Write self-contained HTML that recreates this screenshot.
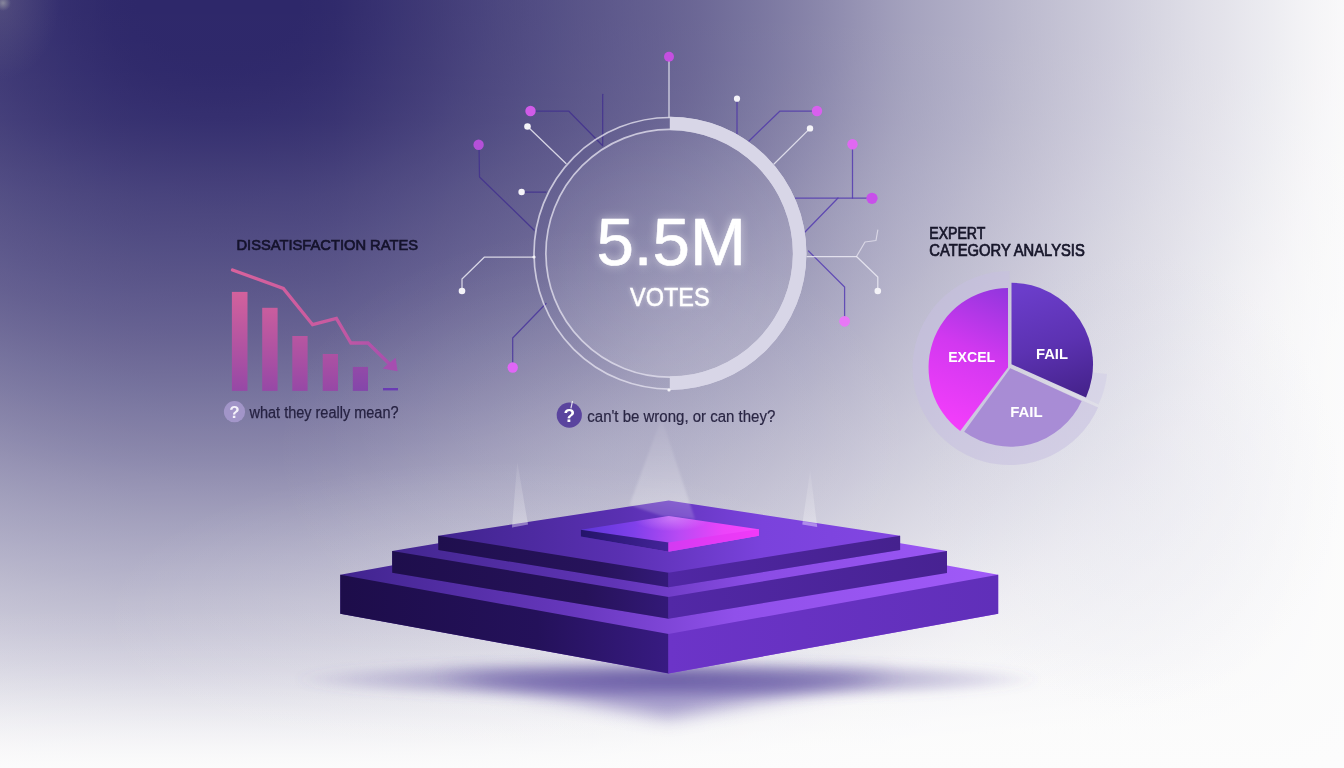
<!DOCTYPE html>
<html lang="en">
<head>
<meta charset="utf-8">
<title>5.5M Votes</title>
<style>
html,body{margin:0;padding:0;background:#fafafa;}
body{width:1344px;height:768px;overflow:hidden;position:relative;}
#stage{position:absolute;left:0;top:0;width:1344px;height:768px;overflow:hidden;background:radial-gradient(circle 8px at 3px 3px, rgba(150,150,165,0.8), rgba(150,150,165,0.35) 55%, rgba(150,150,165,0) 100%), radial-gradient(ellipse 60px 80px at 0px 0px, rgba(112,106,140,0.38), rgba(112,106,140,0) 100%), radial-gradient(ellipse 330px 230px at 600px 455px, rgba(252,252,252,0.10), rgba(252,252,252,0.06) 45%, rgba(252,252,252,0) 100%), radial-gradient(ellipse 400px 160px at 500px 620px, rgba(252,252,252,0.18), rgba(252,252,252,0.11) 50%, rgba(252,252,252,0) 100%), radial-gradient(ellipse 210px 230px at 1130px 480px, rgba(200,200,222,0.17), rgba(200,200,222,0.10) 50%, rgba(200,200,222,0) 100%), linear-gradient(to bottom, rgba(252,252,252,0) 0px, rgba(252,252,252,0.000) 592px, rgba(252,252,252,0.002) 608px, rgba(252,252,252,0.014) 624px, rgba(252,252,252,0.036) 640px, rgba(252,252,252,0.065) 656px, rgba(252,252,252,0.100) 672px, rgba(252,252,252,0.158) 688px, rgba(252,252,252,0.249) 704px, rgba(252,252,252,0.360) 720px, rgba(252,252,252,0.512) 736px, rgba(252,252,252,0.706) 752px, rgba(252,252,252,0.900) 768px), radial-gradient(ellipse 1200px 902.3px at 220px 0px, rgba(46,40,106,0.50) 0.00%, rgba(46,40,106,0.50) 1.67%, rgba(46,40,106,0.50) 3.33%, rgba(46,40,106,0.50) 5.00%, rgba(46,40,106,0.50) 6.67%, rgba(47,41,107,0.50) 8.33%, rgba(49,43,108,0.50) 10.00%, rgba(52,46,110,0.50) 11.67%, rgba(55,49,113,0.50) 13.33%, rgba(58,53,115,0.50) 15.00%, rgba(62,56,117,0.50) 16.67%, rgba(65,60,119,0.50) 18.33%, rgba(69,63,122,0.50) 20.00%, rgba(72,67,125,0.50) 21.67%, rgba(76,71,127,0.50) 23.33%, rgba(79,74,129,0.50) 25.00%, rgba(82,77,132,0.50) 26.67%, rgba(85,81,134,0.50) 28.33%, rgba(89,84,136,0.50) 30.00%, rgba(92,87,138,0.50) 31.67%, rgba(95,90,141,0.50) 33.33%, rgba(98,93,143,0.50) 35.00%, rgba(101,96,145,0.50) 36.67%, rgba(105,100,147,0.50) 38.33%, rgba(109,104,150,0.50) 40.00%, rgba(113,109,153,0.50) 41.67%, rgba(117,114,157,0.50) 43.33%, rgba(122,119,160,0.50) 45.00%, rgba(127,124,164,0.50) 46.67%, rgba(133,129,167,0.50) 48.33%, rgba(138,135,171,0.50) 50.00%, rgba(144,141,176,0.50) 51.67%, rgba(151,148,180,0.50) 53.33%, rgba(157,154,185,0.50) 55.00%, rgba(162,160,188,0.50) 56.67%, rgba(167,165,192,0.50) 58.33%, rgba(171,169,195,0.50) 60.00%, rgba(175,173,198,0.50) 61.67%, rgba(179,177,201,0.50) 63.33%, rgba(183,181,203,0.50) 65.00%, rgba(188,186,206,0.50) 66.67%, rgba(192,190,209,0.50) 68.33%, rgba(196,194,212,0.50) 70.00%, rgba(200,198,215,0.50) 71.67%, rgba(204,202,218,0.50) 73.33%, rgba(208,206,221,0.50) 75.00%, rgba(212,211,224,0.50) 76.67%, rgba(216,215,226,0.50) 78.33%, rgba(220,219,229,0.50) 80.00%, rgba(224,223,232,0.50) 81.67%, rgba(227,226,234,0.50) 83.33%, rgba(231,230,237,0.50) 85.00%, rgba(234,234,240,0.50) 86.67%, rgba(238,238,242,0.50) 88.33%, rgba(242,242,245,0.50) 90.00%, rgba(246,245,247,0.50) 91.67%, rgba(249,248,250,0.50) 93.33%, rgba(250,250,250,0.50) 95.00%, rgba(251,251,251,0.50) 96.67%, rgba(251,251,252,0.50) 98.33%, rgba(252,252,252,0.50) 100.00%), linear-gradient(to bottom, rgba(252,252,252,0.000) 0px, rgba(252,252,252,0.004) 24px, rgba(252,252,252,0.008) 48px, rgba(252,252,252,0.012) 72px, rgba(252,252,252,0.019) 96px, rgba(252,252,252,0.033) 120px, rgba(252,252,252,0.059) 144px, rgba(252,252,252,0.091) 168px, rgba(252,252,252,0.120) 192px, rgba(252,252,252,0.145) 216px, rgba(252,252,252,0.169) 240px, rgba(252,252,252,0.193) 264px, rgba(252,252,252,0.220) 288px, rgba(252,252,252,0.250) 312px, rgba(252,252,252,0.283) 336px, rgba(252,252,252,0.316) 360px, rgba(252,252,252,0.350) 384px, rgba(252,252,252,0.383) 408px, rgba(252,252,252,0.415) 432px, rgba(252,252,252,0.449) 456px, rgba(252,252,252,0.485) 480px, rgba(252,252,252,0.526) 504px, rgba(252,252,252,0.570) 528px, rgba(252,252,252,0.616) 552px, rgba(252,252,252,0.660) 576px, rgba(252,252,252,0.701) 600px, rgba(252,252,252,0.740) 624px, rgba(252,252,252,0.781) 648px, rgba(252,252,252,0.825) 672px, rgba(252,252,252,0.878) 696px, rgba(252,252,252,0.930) 720px, rgba(252,252,252,0.970) 744px, rgba(252,252,252,0.995) 768px), linear-gradient(to right, rgba(252,252,252,0.060) 0px, rgba(252,252,252,0.044) 24px, rgba(252,252,252,0.030) 48px, rgba(252,252,252,0.018) 72px, rgba(252,252,252,0.010) 96px, rgba(252,252,252,0.004) 120px, rgba(252,252,252,0.000) 144px, rgba(252,252,252,0.000) 168px, rgba(252,252,252,0.000) 192px, rgba(252,252,252,0.000) 216px, rgba(252,252,252,0.000) 240px, rgba(252,252,252,0.000) 264px, rgba(252,252,252,0.000) 288px, rgba(252,252,252,0.002) 312px, rgba(252,252,252,0.013) 336px, rgba(252,252,252,0.032) 360px, rgba(252,252,252,0.052) 384px, rgba(252,252,252,0.071) 408px, rgba(252,252,252,0.091) 432px, rgba(252,252,252,0.112) 456px, rgba(252,252,252,0.133) 480px, rgba(252,252,252,0.153) 504px, rgba(252,252,252,0.172) 528px, rgba(252,252,252,0.190) 552px, rgba(252,252,252,0.207) 576px, rgba(252,252,252,0.225) 600px, rgba(252,252,252,0.242) 624px, rgba(252,252,252,0.258) 648px, rgba(252,252,252,0.277) 672px, rgba(252,252,252,0.299) 696px, rgba(252,252,252,0.324) 720px, rgba(252,252,252,0.351) 744px, rgba(252,252,252,0.380) 768px, rgba(252,252,252,0.410) 792px, rgba(252,252,252,0.442) 816px, rgba(252,252,252,0.478) 840px, rgba(252,252,252,0.515) 864px, rgba(252,252,252,0.550) 888px, rgba(252,252,252,0.579) 912px, rgba(252,252,252,0.605) 936px, rgba(252,252,252,0.629) 960px, rgba(252,252,252,0.652) 984px, rgba(252,252,252,0.675) 1008px, rgba(252,252,252,0.699) 1032px, rgba(252,252,252,0.722) 1056px, rgba(252,252,252,0.745) 1080px, rgba(252,252,252,0.769) 1104px, rgba(252,252,252,0.793) 1128px, rgba(252,252,252,0.817) 1152px, rgba(252,252,252,0.840) 1176px, rgba(252,252,252,0.862) 1200px, rgba(252,252,252,0.883) 1224px, rgba(252,252,252,0.904) 1248px, rgba(252,252,252,0.926) 1272px, rgba(252,252,252,0.948) 1296px, rgba(252,252,252,0.968) 1320px, rgba(252,252,252,0.985) 1344px), rgb(46,40,106);}
svg{position:absolute;left:0;top:0;display:block;}
text{font-family:"Liberation Sans",Arial,sans-serif;}
</style>
</head>
<body>
<div id="stage">
<svg width="1344" height="768" viewBox="0 0 1344 768">
<defs>

<filter id="blur4" x="-50%" y="-50%" width="200%" height="200%"><feGaussianBlur stdDeviation="4"/></filter>
<filter id="blur2" x="-50%" y="-50%" width="200%" height="200%"><feGaussianBlur stdDeviation="2"/></filter>
<filter id="blur1" x="-50%" y="-50%" width="200%" height="200%"><feGaussianBlur stdDeviation="0.8"/></filter>
<filter id="blurS3" x="-30%" y="-100%" width="160%" height="300%"><feGaussianBlur stdDeviation="5"/></filter>
<filter id="blurS" x="-30%" y="-100%" width="160%" height="300%"><feGaussianBlur stdDeviation="9"/></filter>
<filter id="blurS2" x="-30%" y="-100%" width="160%" height="300%"><feGaussianBlur stdDeviation="16"/></filter>
<filter id="glowBig" x="-30%" y="-50%" width="160%" height="200%">
  <feGaussianBlur in="SourceGraphic" stdDeviation="5" result="b"/>
  <feComponentTransfer in="b" result="g"><feFuncA type="linear" slope="0.5"/></feComponentTransfer>
  <feMerge><feMergeNode in="g"/><feMergeNode in="SourceGraphic"/></feMerge></filter>
<filter id="glowSmall" x="-30%" y="-60%" width="160%" height="220%">
  <feGaussianBlur in="SourceGraphic" stdDeviation="2" result="b"/>
  <feComponentTransfer in="b" result="g"><feFuncA type="linear" slope="0.4"/></feComponentTransfer>
  <feMerge><feMergeNode in="g"/><feMergeNode in="SourceGraphic"/></feMerge></filter>
<linearGradient id="barG" x1="0" y1="290" x2="0" y2="391" gradientUnits="userSpaceOnUse">
  <stop offset="0" stop-color="#d4629c"/><stop offset="1" stop-color="#9648a6"/></linearGradient>
<linearGradient id="barG5" x1="0" y1="290" x2="0" y2="391" gradientUnits="userSpaceOnUse">
  <stop offset="0" stop-color="#c058a0"/><stop offset="1" stop-color="#8446aa"/></linearGradient>
<linearGradient id="lineG" x1="232" y1="0" x2="398" y2="0" gradientUnits="userSpaceOnUse">
  <stop offset="0" stop-color="#d8629c"/><stop offset="0.6" stop-color="#c85aa0"/><stop offset="1" stop-color="#a44eb0"/></linearGradient>
<linearGradient id="excelG" x1="1005" y1="290" x2="945" y2="430" gradientUnits="userSpaceOnUse">
  <stop offset="0" stop-color="#9436de"/><stop offset="0.45" stop-color="#d238f0"/><stop offset="1" stop-color="#f63efc"/></linearGradient>
<linearGradient id="failDG" x1="1040" y1="285" x2="1075" y2="400" gradientUnits="userSpaceOnUse">
  <stop offset="0" stop-color="#6b3dca"/><stop offset="0.5" stop-color="#5c32b2"/><stop offset="1" stop-color="#44228a"/></linearGradient>
<linearGradient id="failLG" x1="1010" y1="370" x2="1030" y2="446" gradientUnits="userSpaceOnUse">
  <stop offset="0" stop-color="#a88cd4"/><stop offset="1" stop-color="#a88cd6"/></linearGradient>
<radialGradient id="discG" cx="669.5" cy="300" r="180" gradientUnits="userSpaceOnUse">
  <stop offset="0" stop-color="#ffffff" stop-opacity="0.16"/><stop offset="1" stop-color="#ffffff" stop-opacity="0.06"/></radialGradient>
<linearGradient id="beamG" x1="0" y1="0" x2="0" y2="1">
  <stop offset="0" stop-color="#ffffff" stop-opacity="0.07"/><stop offset="1" stop-color="#ffffff" stop-opacity="0.28"/></linearGradient>
<linearGradient id="beamC" x1="0" y1="418" x2="0" y2="519" gradientUnits="userSpaceOnUse">
  <stop offset="0" stop-color="#ffffff" stop-opacity="0.04"/><stop offset="0.8" stop-color="#ffffff" stop-opacity="0.22"/><stop offset="1" stop-color="#ffffff" stop-opacity="0.14"/></linearGradient>
<filter id="blur05" x="-50%" y="-50%" width="200%" height="200%"><feGaussianBlur stdDeviation="0.5"/></filter>
<!-- podium gradients -->
<linearGradient id="t1L" x1="340" y1="0" x2="669" y2="0" gradientUnits="userSpaceOnUse">
  <stop offset="0" stop-color="#1d0d4a"/><stop offset="0.6" stop-color="#24115a"/><stop offset="1" stop-color="#381b82"/></linearGradient>
<linearGradient id="t1R" x1="669" y1="0" x2="998" y2="0" gradientUnits="userSpaceOnUse">
  <stop offset="0" stop-color="#6c34c8"/><stop offset="1" stop-color="#602fb9"/></linearGradient>
<linearGradient id="t1T" x1="340" y1="0" x2="998" y2="0" gradientUnits="userSpaceOnUse">
  <stop offset="0" stop-color="#40248e"/><stop offset="0.35" stop-color="#6637bc"/><stop offset="0.6" stop-color="#9050ea"/><stop offset="1" stop-color="#a05af8"/></linearGradient>
<linearGradient id="t2L" x1="392" y1="0" x2="669" y2="0" gradientUnits="userSpaceOnUse">
  <stop offset="0" stop-color="#1e0e4c"/><stop offset="0.7" stop-color="#261259"/><stop offset="1" stop-color="#331978"/></linearGradient>
<linearGradient id="t2R" x1="669" y1="0" x2="947" y2="0" gradientUnits="userSpaceOnUse">
  <stop offset="0" stop-color="#5228a6"/><stop offset="1" stop-color="#472292"/></linearGradient>
<linearGradient id="t2T" x1="392" y1="0" x2="947" y2="0" gradientUnits="userSpaceOnUse">
  <stop offset="0" stop-color="#42268f"/><stop offset="0.4" stop-color="#6034b6"/><stop offset="0.65" stop-color="#8a4ce4"/><stop offset="1" stop-color="#9a56f4"/></linearGradient>
<linearGradient id="t3L" x1="438" y1="0" x2="669" y2="0" gradientUnits="userSpaceOnUse">
  <stop offset="0" stop-color="#1f0f4e"/><stop offset="0.7" stop-color="#27135b"/><stop offset="1" stop-color="#341a7a"/></linearGradient>
<linearGradient id="t3R" x1="669" y1="0" x2="900" y2="0" gradientUnits="userSpaceOnUse">
  <stop offset="0" stop-color="#5027a4"/><stop offset="1" stop-color="#45218e"/></linearGradient>
<linearGradient id="t3T" x1="438" y1="0" x2="900" y2="0" gradientUnits="userSpaceOnUse">
  <stop offset="0" stop-color="#40248e"/><stop offset="0.4" stop-color="#5a30b2"/><stop offset="0.7" stop-color="#7a42dc"/><stop offset="1" stop-color="#8246e2"/></linearGradient>
<linearGradient id="t4T" x1="581" y1="0" x2="759" y2="0" gradientUnits="userSpaceOnUse">
  <stop offset="0" stop-color="#5c36d8"/><stop offset="0.3" stop-color="#8040ea"/><stop offset="0.55" stop-color="#b84af4"/><stop offset="0.8" stop-color="#ec44fa"/><stop offset="1" stop-color="#f646fc"/></linearGradient>
<linearGradient id="t4L" x1="581" y1="0" x2="669" y2="0" gradientUnits="userSpaceOnUse">
  <stop offset="0" stop-color="#24146a"/><stop offset="1" stop-color="#44249a"/></linearGradient>
<linearGradient id="t4R" x1="669" y1="0" x2="759" y2="0" gradientUnits="userSpaceOnUse">
  <stop offset="0" stop-color="#d43af2"/><stop offset="1" stop-color="#f23af8"/></linearGradient>
<radialGradient id="t4H" cx="672" cy="519" r="38" gradientUnits="userSpaceOnUse" gradientTransform="translate(0 519) scale(1 0.32) translate(0 -519)">
  <stop offset="0" stop-color="#f0b0ff" stop-opacity="0.42"/><stop offset="1" stop-color="#f0b0ff" stop-opacity="0"/></radialGradient>
<radialGradient id="shG" cx="0.5" cy="0.5" r="0.5">
  <stop offset="0" stop-color="#544694" stop-opacity="0.78"/><stop offset="0.5" stop-color="#5e509c" stop-opacity="0.5"/><stop offset="0.85" stop-color="#6c5ea8" stop-opacity="0.18"/><stop offset="1" stop-color="#6c5ea8" stop-opacity="0"/></radialGradient>
</defs>

<g id="shadow">
<ellipse cx="668" cy="679.5" rx="374" ry="20" fill="url(#shG)" filter="url(#blurS3)"/>
<path d="M440 676 L668 672 L896 676 L668 718 Z" fill="#5846a0" opacity="0.5" filter="url(#blurS)"/>
</g>
<g id="podium">
<path d="M340.3 574.7 L668.7 515.3 L998.2 574.7 L998.2 613.8 L668.7 673.5 L340.3 613.8 Z" fill="url(#t1T)"/>
<path d="M340.3 574.7 L668.7 634.1 L668.7 673.5 L340.3 613.8 Z" fill="url(#t1L)"/>
<path d="M668.3 634.1 L998.2 574.7 L998.2 613.8 L668.3 673.5 Z" fill="url(#t1R)"/>
<path d="M392.2 550.9 L668.7 504.9 L947.0 551.0 L947.0 572.9 L668.7 618.8 L392.2 572.8 Z" fill="url(#t2T)"/>
<path d="M392.2 550.9 L668.7 597.0 L668.7 618.8 L392.2 572.8 Z" fill="url(#t2L)"/>
<path d="M668.3 597.0 L947.0 551.0 L947.0 572.9 L668.3 618.8 Z" fill="url(#t2R)"/>
<path d="M438.3 535.7 L668.7 500.5 L900.1 535.7 L900.1 550.1 L668.7 587.2 L438.3 550.1 Z" fill="url(#t3T)"/>
<path d="M438.3 535.7 L668.7 572.8 L668.7 587.2 L438.3 550.1 Z" fill="url(#t3L)"/>
<path d="M668.3 572.8 L900.1 535.7 L900.1 550.1 L668.3 587.2 Z" fill="url(#t3R)"/>
<path d="M580.8 529.8 L668.7 516.0 L758.8 529.2 L758.8 535.8 L668.7 551.8 L580.8 536.4 Z" fill="url(#t4T)"/>
<path d="M580.8 529.8 L668.7 542.6 L668.7 551.8 L580.8 536.4 Z" fill="url(#t4L)"/>
<path d="M668.3 542.6 L758.8 529.2 L758.8 535.8 L668.3 551.8 Z" fill="url(#t4R)"/>
<path d="M580.8 529.6 L668.7 516 L758.8 529.2 L668.7 542.3 Z" fill="url(#t4H)"/>
</g>
<g id="beams">
<path d="M661.5 418 L629.5 505 L662 516 L695 519 Z" fill="url(#beamC)" filter="url(#blur1)"/>
<path d="M517.3 462 L512 527.4 L528 524.6 Z" fill="url(#beamG)" filter="url(#blur05)"/>
<path d="M512.2 524 L527.8 521.4 L528 524.6 L512 527.4 Z" fill="#ffffff" opacity="0.16"/>
<path d="M810.2 470.5 L802.3 524.6 L817.2 527 Z" fill="url(#beamG)" filter="url(#blur05)"/>
<path d="M802.6 521.6 L817 524 L817.2 527 L802.3 524.6 Z" fill="#ffffff" opacity="0.16"/>
</g>
<g id="network" fill="none" stroke-linecap="round" stroke-linejoin="round">
<path d="M530.5 111 L568.6 111 L602 145" stroke="#44338e" stroke-width="1.25" opacity="0.9"/>
<path d="M602.7 94.3 L602.7 145.8" stroke="#44338e" stroke-width="1.25" opacity="0.9"/>
<path d="M479 145 L479.5 177 L534 230" stroke="#44338e" stroke-width="1.25" opacity="0.9"/>
<path d="M521.6 192 L546 192" stroke="#44338e" stroke-width="1.25" opacity="0.9"/>
<path d="M546 303.5 L512.7 338 L512.7 367" stroke="#4c3a9c" stroke-width="1.25" opacity="0.9"/>
<path d="M737 98.7 L737 134" stroke="#523ca6" stroke-width="1.25" opacity="0.9"/>
<path d="M817 111 L780 111 L749 141" stroke="#543eaa" stroke-width="1.25" opacity="0.9"/>
<path d="M852.5 144 L852.5 198" stroke="#5840b0" stroke-width="1.25" opacity="0.9"/>
<path d="M872 198 L795 198" stroke="#5840b0" stroke-width="1.25" opacity="0.9"/>
<path d="M838 198 L805 232" stroke="#5840b0" stroke-width="1.25" opacity="0.9"/>
<path d="M808.5 251 L844.6 287 L844.6 321" stroke="#5a42b4" stroke-width="1.25" opacity="0.9"/>
<path d="M669 57 L669 117" stroke="#ecebf4" stroke-width="1.25" opacity="0.85"/>
<path d="M527.5 126.5 L566 163.5" stroke="#ecebf4" stroke-width="1.25" opacity="0.85"/>
<path d="M534 257 L484.5 257 L462 279 L462 290.7" stroke="#ecebf4" stroke-width="1.25" opacity="0.85"/>
<path d="M810 128.4 L774 164" stroke="#ecebf4" stroke-width="1.25" opacity="0.85"/>
<path d="M807 256.5 L856.5 256.5 L877.8 277 L877.8 290.7" stroke="#ecebf4" stroke-width="1.25" opacity="0.85"/>
<path d="M856.5 256.5 L865 242 L876 240.5 L877.8 230" stroke="#eceaf4" stroke-width="1.2" opacity="0.7"/>
</g>
<g id="ring">
<circle cx="669.8" cy="253.3" r="123.2" fill="url(#discG)"/>
<circle cx="669.8" cy="253.3" r="135.8" fill="none" stroke="#e2e0ee" stroke-width="1.7" opacity="0.8"/>
<circle cx="669.8" cy="253.3" r="123.9" fill="none" stroke="#e2e0ee" stroke-width="1.7" opacity="0.8"/>
<path d="M669.8 116.7 A136.6 136.6 0 0 1 669.8 389.9 L669.8 376.5 A123.2 123.2 0 0 0 669.8 130.1 Z" fill="#d8d6e7"/>
</g>
<g id="nodes">
<circle cx="669.0" cy="56.7" r="5.0" fill="#c44fe0"/>
<circle cx="530.5" cy="111.0" r="5.2" fill="#d05be8"/>
<circle cx="478.6" cy="144.8" r="5.2" fill="#b450d8"/>
<circle cx="512.7" cy="367.5" r="5.2" fill="#e066f6"/>
<circle cx="817.0" cy="111.0" r="5.2" fill="#d860ee"/>
<circle cx="852.5" cy="144.3" r="5.2" fill="#e068f2"/>
<circle cx="872.0" cy="198.3" r="5.6" fill="#c850ea"/>
<circle cx="844.6" cy="321.3" r="5.4" fill="#e878f6"/>
<circle cx="527.5" cy="126.5" r="3.3" fill="#f4f3f8"/>
<circle cx="521.6" cy="192.0" r="3.2" fill="#f4f3f8"/>
<circle cx="462.0" cy="291.0" r="3.3" fill="#f4f3f8"/>
<circle cx="737.0" cy="98.7" r="3.1" fill="#f4f3f8"/>
<circle cx="810.0" cy="128.4" r="3.2" fill="#f4f3f8"/>
<circle cx="877.8" cy="291.0" r="3.3" fill="#f4f3f8"/>
<circle cx="534.0" cy="257.0" r="1.6" fill="#f4f3f8"/>
<circle cx="669.0" cy="390.0" r="1.6" fill="#f4f3f8"/>
</g>
<g id="centre-text" text-anchor="middle" fill="#ffffff">
<text x="671.2" y="264.6" font-size="66" textLength="149.5" lengthAdjust="spacingAndGlyphs" stroke="#ffffff" stroke-width="0.6" stroke-linejoin="round" filter="url(#glowBig)">5.5M</text>
<text x="669.8" y="306.3" font-size="26" textLength="79.5" lengthAdjust="spacingAndGlyphs" stroke="#ffffff" stroke-width="0.5" filter="url(#glowSmall)">VOTES</text>
</g>
<g id="left-chart">
<text x="236.5" y="249.5" font-size="15.5" textLength="181.5" lengthAdjust="spacingAndGlyphs" fill="#15132c" stroke="#15132c" stroke-width="0.7">DISSATISFACTION RATES</text>
<rect x="231.9" y="291.9" width="15.6" height="99.0" fill="url(#barG)"/>
<rect x="262.2" y="307.8" width="15.4" height="83.1" fill="url(#barG)"/>
<rect x="292.3" y="336.0" width="15.3" height="54.9" fill="url(#barG)"/>
<rect x="322.7" y="354.0" width="15.3" height="36.9" fill="url(#barG)"/>
<rect x="352.8" y="366.9" width="15.2" height="24.0" fill="url(#barG5)"/>
<rect x="383" y="388" width="15" height="2.4" fill="#6a3bb4"/>
<path d="M232.5 270 L283.3 288.4 L312.6 324.7 L336.4 318.5 L350.9 343 L368 343 L389 363.5" fill="none" stroke="url(#lineG)" stroke-width="3.3" stroke-linecap="round" stroke-linejoin="miter"/>
<path d="M395.6 357.8 L397.6 371.2 L382.6 368.6 Z" fill="#a64eb0"/>
<circle cx="234.5" cy="411.7" r="10.6" fill="#ab9cd2" opacity="0.8"/>
<text x="234.5" y="417.8" font-size="17" font-weight="bold" text-anchor="middle" fill="#f4f2fa">?</text>
<text x="249.5" y="418" font-size="16" textLength="149" lengthAdjust="spacingAndGlyphs" fill="#262242" stroke="#262242" stroke-width="0.25">what they really mean?</text>
</g>
<g id="centre-q">
<circle cx="569.3" cy="415.1" r="12.6" fill="#5a449e"/>
<path d="M572.4 401.5 L571 408" stroke="#ffffff" stroke-width="1.2" stroke-linecap="round" opacity="0.8" fill="none"/>
<text x="569.3" y="422.1" font-size="19" font-weight="bold" text-anchor="middle" fill="#ffffff">?</text>
<text x="587.3" y="421.6" font-size="16" textLength="188" lengthAdjust="spacingAndGlyphs" fill="#2a2644" stroke="#2a2644" stroke-width="0.2">can't be wrong, or can they?</text>
</g>
<g id="right-chart">
<text x="929.3" y="238.8" font-size="15.9" textLength="56" lengthAdjust="spacingAndGlyphs" fill="#17162a" stroke="#17162a" stroke-width="0.7">EXPERT</text>
<text x="929.3" y="256.0" font-size="15.9" textLength="155.5" lengthAdjust="spacingAndGlyphs" fill="#17162a" stroke="#17162a" stroke-width="0.7">CATEGORY ANALYSIS</text>
<path d="M1009.5 368.0 L1098.1 407.5 A97.0 97.0 0 1 1 1009.5 271.0 Z" fill="#c6c0e0" opacity="0.55"/>
<path d="M1011.5 364.0 L1107.0 374.0 A96.0 96.0 0 0 1 1098.5 404.6 Z" fill="#d2cee6" opacity="0.6"/>
<path d="M1008.0 367.6 L960.2 431.1 A79.5 79.5 0 0 1 1008.0 288.1 Z" fill="url(#excelG)"/>
<path d="M1011.5 364.3 L1011.5 282.8 A81.5 81.5 0 0 1 1086.0 397.4 Z" fill="url(#failDG)"/>
<path d="M1010.3 368.2 L1081.7 400.9 A78.5 78.5 0 0 1 964.2 431.7 Z" fill="url(#failLG)"/>
<g fill="#ffffff" font-weight="bold" font-size="15.5" text-anchor="middle">
<text x="971.7" y="362.3" textLength="47" lengthAdjust="spacingAndGlyphs">EXCEL</text>
<text x="1052" y="359.3" textLength="32" lengthAdjust="spacingAndGlyphs">FAIL</text>
<text x="1026.4" y="416.6" textLength="32.5" lengthAdjust="spacingAndGlyphs">FAIL</text>
</g>
</g>
</svg>
</div>
</body>
</html>
